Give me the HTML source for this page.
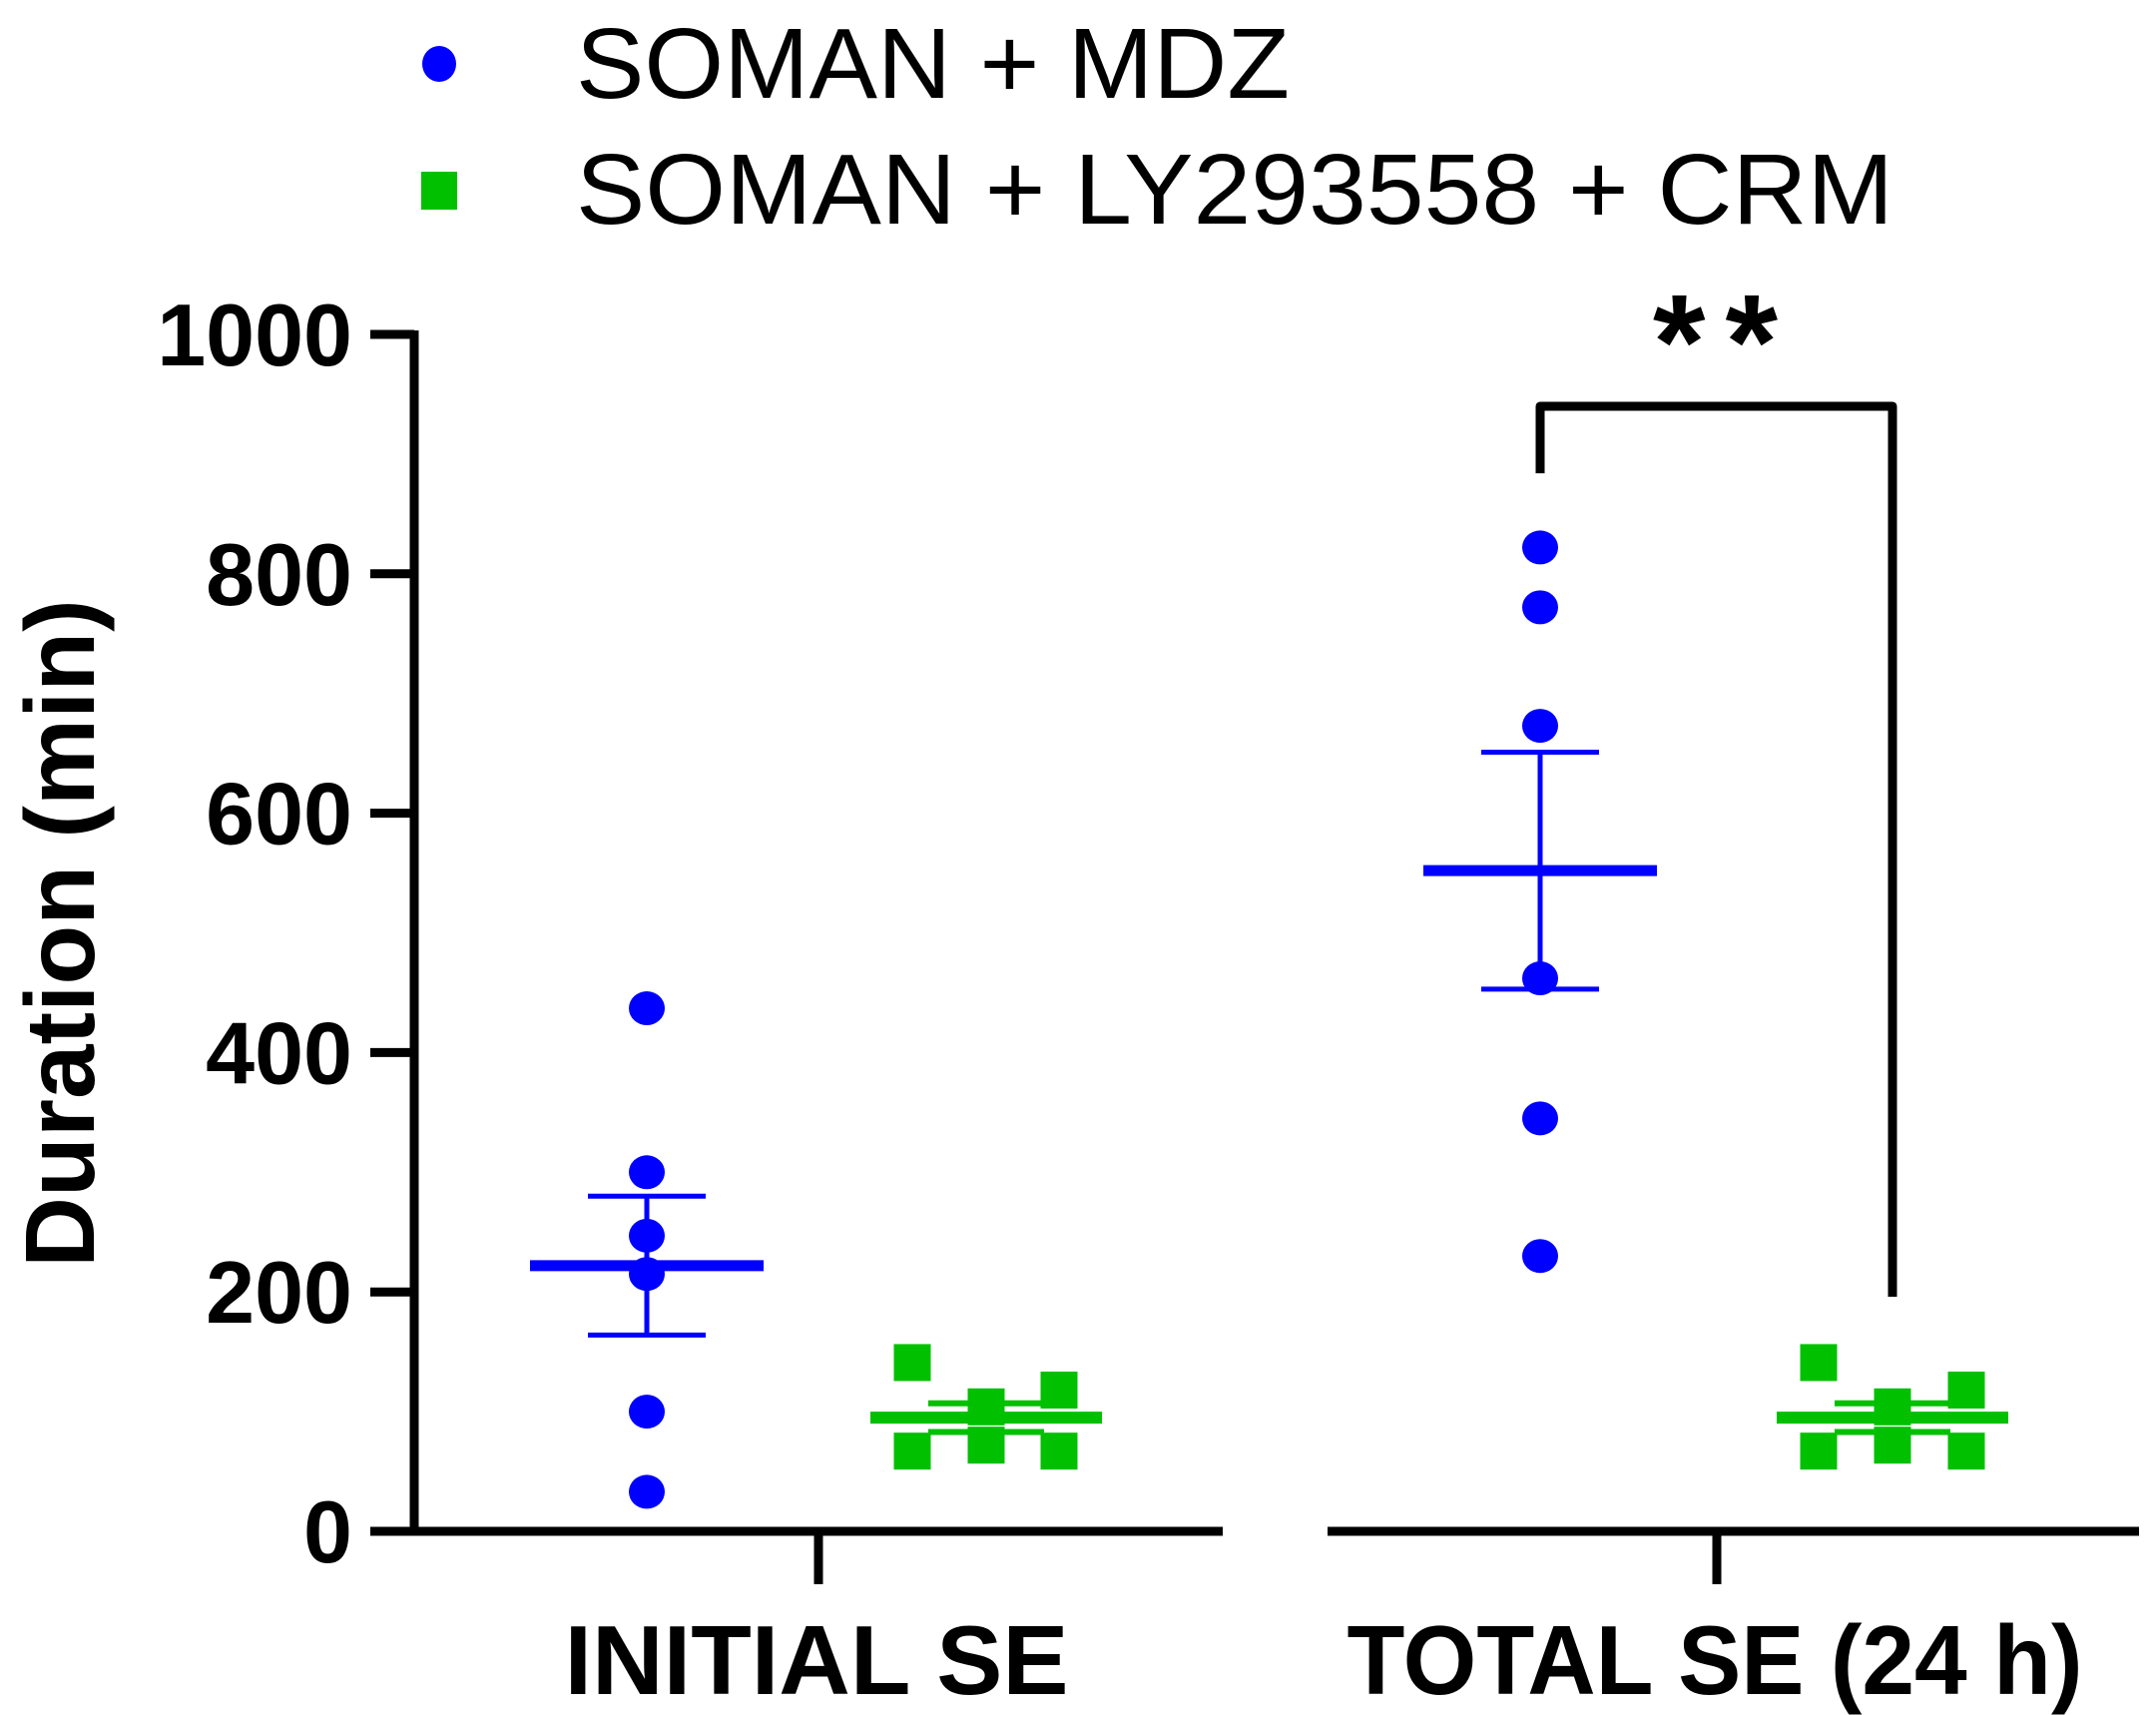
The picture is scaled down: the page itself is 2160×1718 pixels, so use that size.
<!DOCTYPE html>
<html><head><meta charset="utf-8"><style>
html,body{margin:0;padding:0;background:#fff;}
svg{display:block;font-family:"Liberation Sans",Arial,sans-serif;}
</style></head><body>
<svg id="chart" width="2160" height="1718" viewBox="0 0 2160 1718" xmlns="http://www.w3.org/2000/svg">
<g id="legend">
  <ellipse cx="440" cy="64" rx="17" ry="18" fill="#0000ff"/>
  <text x="577" y="98" font-size="100" textLength="715" lengthAdjust="spacingAndGlyphs">SOMAN + MDZ</text>
  <rect x="422" y="172" width="36" height="38" fill="#00c000"/>
  <text x="577" y="224" font-size="100" textLength="1320" lengthAdjust="spacingAndGlyphs">SOMAN + LY293558 + CRM</text>
</g>
<g id="axes"></g>
<g id="marks"></g>
</svg>
<script>
const yTicks = [0, 200, 400, 600, 800, 1000];
const categories = ["INITIAL SE", "TOTAL SE (24 h)"];
const mdzValues = [[437, 300, 247, 215, 100, 33], [822, 772, 673, 462, 345, 230]];
const mdzMean = [222, 552];
const mdzSem = [58, 99];
const crmValues = [[141, 104, 118, 67, 72, 67], [141, 104, 118, 67, 72, 67]];
const crmMean = [95, 95];
const crmSem = [12, 12];
const sigLabel = "**";
const sigBracket = [940, 884, 196];

const NS = "http://www.w3.org/2000/svg";
const y0 = 1534, pxPer = 1.199;
function y(v){ return y0 - v * pxPer; }
const groupCenter = [820, 1720];
const mdzX = [648, 1543];
const crmX = [[914, 988, 1061], [1822, 1896, 1970]];
function mk(tag, attrs, parent){ const e = document.createElementNS(NS, tag); for (const k in attrs) e.setAttribute(k, attrs[k]); parent.appendChild(e); return e; }
const axes = document.getElementById('axes');
const marks = document.getElementById('marks');

let el;
el = mk('line', {x1:415, y1:y(1000)-4, x2:415, y2:y(0)+4, stroke:'#000','stroke-width':9}, axes);


el = mk('line', {x1:371, y1:y(0), x2:1225, y2:y(0), stroke:'#000','stroke-width':9}, axes);


el = mk('line', {x1:1330, y1:y(0), x2:2143, y2:y(0), stroke:'#000','stroke-width':9}, axes);


yTicks.forEach(t => {
  const l = mk('line', {x1:371, y1:y(t), x2:415, y2:y(t), stroke:'#000','stroke-width':9}, axes);
  
  
  const tx = mk('text', {x:353, y:y(t)+31, 'font-size':88, 'font-weight':'bold', 'text-anchor':'end'}, axes);
  tx.textContent = t;
  
  
});
el = mk('text', {x:0, y:0, 'font-size':98, 'font-weight':'bold', 'text-anchor':'middle', transform:'translate(94,935) rotate(-90)'}, axes);
el.textContent = 'Duration (min)';


const catWidths = [505, 737];
const catCenters = [818, 1718];
categories.forEach((c, i) => {
  const l = mk('line', {x1:groupCenter[i], y1:y(0), x2:groupCenter[i], y2:1587, stroke:'#000','stroke-width':9}, axes);
  
  
  const tx = mk('text', {x:catCenters[i]-catWidths[i]/2, y:1697, 'font-size':98, 'font-weight':'bold', textLength:catWidths[i], lengthAdjust:'spacingAndGlyphs'}, axes);
  tx.textContent = c;
  
  
});

categories.forEach((c, i) => {
  mdzValues[i].forEach(v => {
    const p = mk('ellipse', {cx:mdzX[i], cy:y(v), rx:18, ry:17, fill:'#0000ff'}, marks);
    
    
  });
  const cx = mdzX[i];
  const e1 = mk('line', {x1:cx, y1:y(mdzMean[i]+mdzSem[i]), x2:cx, y2:y(mdzMean[i]-mdzSem[i]), stroke:'#0000ff','stroke-width':5}, marks);
  
  
  [mdzMean[i]+mdzSem[i], mdzMean[i]-mdzSem[i]].forEach(v => {
    const cap = mk('line', {x1:cx-59, y1:y(v), x2:cx+59, y2:y(v), stroke:'#0000ff','stroke-width':5}, marks);
    
    
  });
  const m = mk('line', {x1:cx-117, y1:y(mdzMean[i]), x2:cx+117, y2:y(mdzMean[i]), stroke:'#0000ff','stroke-width':11}, marks);
  
  

  crmValues[i].forEach((v, j) => {
    const sx = crmX[i][j % 3];
    const s = mk('rect', {x:sx-18.5, y:y(v)-18.5, width:37, height:37, fill:'#00c000'}, marks);
    
    
  });
  const gc = crmX[i][1];
  [crmMean[i]+crmSem[i], crmMean[i]-crmSem[i]].forEach(v => {
    const cap = mk('line', {x1:gc-58, y1:y(v), x2:gc+58, y2:y(v), stroke:'#00c000','stroke-width':6}, marks);
    
    
  });
  const gm = mk('line', {x1:gc-116, y1:y(crmMean[i]), x2:gc+116, y2:y(crmMean[i]), stroke:'#00c000','stroke-width':12}, marks);
  
  
});

const bx1 = mdzX[1], bx2 = crmX[1][1];
el = mk('polyline', {points:`${bx1},${y(sigBracket[1])} ${bx1},${y(sigBracket[0])} ${bx2},${y(sigBracket[0])} ${bx2},${y(sigBracket[2])}`, fill:'none', stroke:'#000','stroke-width':9,'stroke-linejoin':'round'}, marks);


el = mk('text', {x:(bx1+bx2)/2 + 9, y:y(sigBracket[0])-18, 'font-size':135, 'font-weight':'bold', 'text-anchor':'middle', 'letter-spacing':'20'}, marks);
el.textContent = sigLabel;


</script>
</body></html>
